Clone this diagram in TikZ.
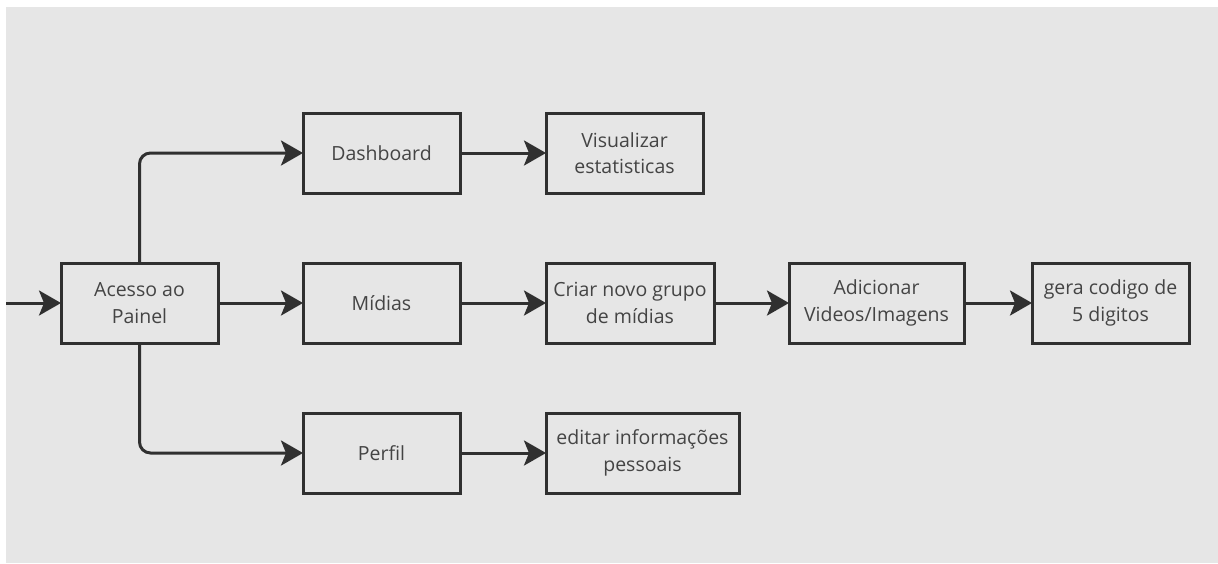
\documentclass[tikz,border=0pt]{standalone}
\usepackage{fontspec}
\setmainfont{Open Sans}
\usetikzlibrary{arrows.meta,positioning}
\definecolor{inkgray}{HTML}{303030}
\definecolor{textgray}{HTML}{444444}
\definecolor{boardgray}{HTML}{E6E6E6}
\tikzset{
    flow diagram/.style = {x=1pt, y=-1pt, >={Stealth[length=22pt, width=25pt, inset=5pt]}},
    line/.style         = {line width=3pt, draw=inkgray, rounded corners=11pt},
    box/.style          = {draw=inkgray, line width=3pt, fill=boardgray,
                           minimum height=80pt, minimum width=157pt,
                           inner sep=2pt, outer sep=0pt, align=center, text=textgray,
                           font=\fontsize{19.5}{26.5}\selectfont}
}
\begin{document}
\begin{tikzpicture}[flow diagram]

% Canvas: white border on top and left, gray board
\useasboundingbox (0,0) rectangle (1218,563);
\fill[white] (0,0) rectangle (1218,563);
\fill[boardgray] (6,7) rectangle (1218,563);

% Entry block and the three branches
\node[box] (acesso) at (139.5,303) {Acesso ao\\Painel};
\node[box, right=85pt of acesso] (midias) {Mídias};
\node[box, above=70pt of midias] (dash) {Dashboard};
\node[box, below=70pt of midias] (perfil) {Perfil};

% Follow-up steps of each branch
\node[box, right=86pt of dash] (visual) {Visualizar\\estatisticas};
\node[box, minimum width=168pt, right=86pt of midias] (criar) {Criar novo grupo\\de mídias};
\node[box, minimum width=175pt, right=75pt of criar] (adic) {Adicionar\\Videos/Imagens};
\node[box, right=68pt of adic] (gera) {gera codigo de\\5 digitos};
\node[box, minimum width=193pt, right=86pt of perfil] (editar) {editar informações\\pessoais};

% Incoming port arrow
\coordinate[left=55pt of acesso] (entry);
\draw[->, line] (entry) -- (acesso.west);

% Fan-out from the panel
\draw[->, line] (acesso.east) -- (midias.west);
\draw[->, line] (acesso.north) |- (dash.west);
\draw[->, line] (acesso.south) |- (perfil.west);

% Chains
\draw[->, line] (dash.east) -- (visual.west);
\draw[->, line] (midias.east) -- (criar.west);
\draw[->, line] (criar.east) -- (adic.west);
\draw[->, line] (adic.east) -- (gera.west);
\draw[->, line] (perfil.east) -- (editar.west);

\end{tikzpicture}
\end{document}
